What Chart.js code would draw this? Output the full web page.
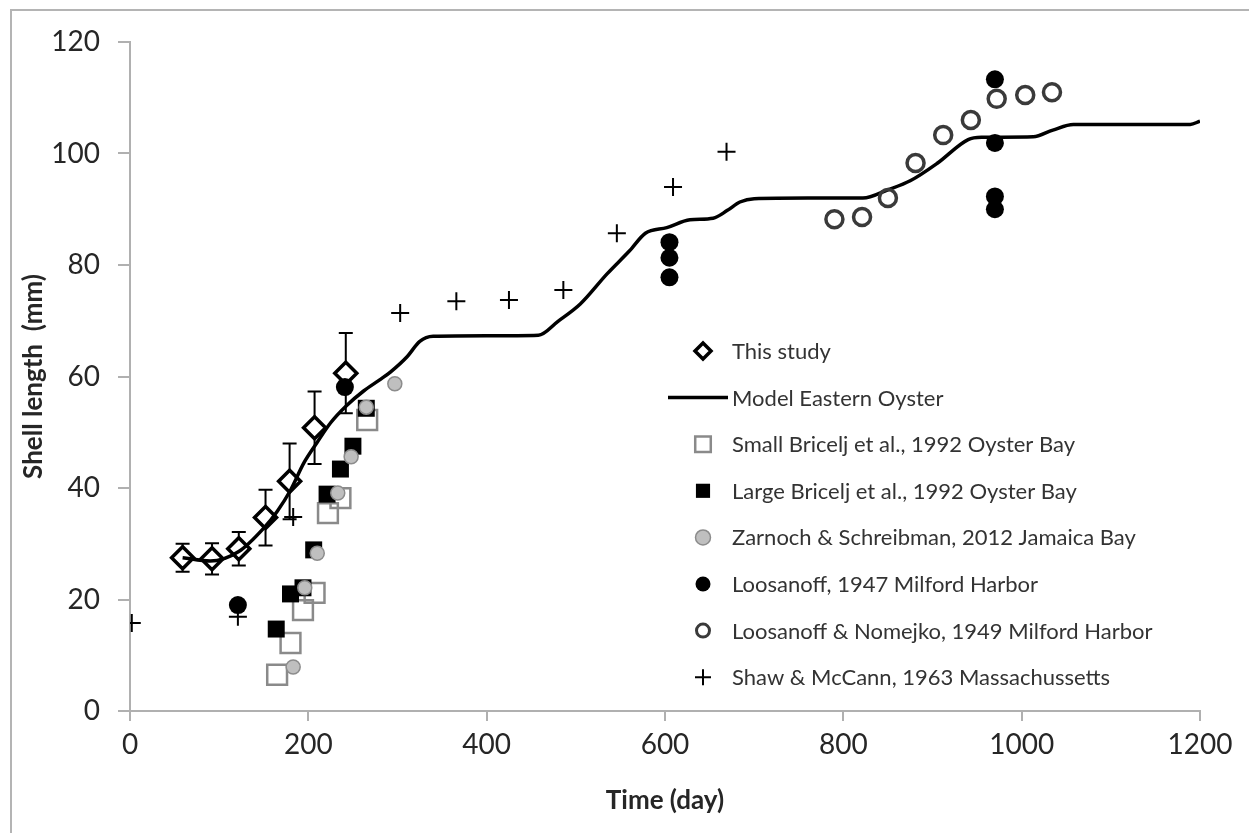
<!DOCTYPE html>
<html>
<head>
<meta charset="utf-8">
<script src="https://cdn.jsdelivr.net/npm/chart.js@4.4.1/dist/chart.umd.min.js"></script>
<style>
	html, body { margin: 0; padding: 0; background: #fff; }
	#wrap { position: relative; width: 1249px; height: 833px; overflow: hidden; }
	#frame { position: absolute; left: 10px; top: 9px; width: 1300px; height: 900px; border: 2px solid #b4b4b4; box-sizing: border-box; }
	#growth { position: absolute; left: 0; top: 0; }
</style>
</head>
<body>
<div id="wrap">
	<div id="frame"></div>
	<canvas id="growth" width="1249" height="833"></canvas>
</div>
<script>
( function () {
	'use strict';

	// This study: mean shell length with error bars
	var studyDay = [ 59, 92, 122, 152, 179, 207, 242 ];
	var studyLen = [ 27.5, 27.3, 29.1, 34.7, 41.2, 50.8, 60.6 ];
	var studyErr = [ 2.5, 2.8, 3.0, 5.0, 6.8, 6.5, 7.2 ];

	// Model Eastern Oyster
	var modelDay = [ 59, 90, 122, 150, 165, 180, 195, 210, 225, 243, 262, 280, 292, 311, 325, 340, 400, 458, 480, 505, 535, 560, 578, 602, 628, 654, 670, 684, 700, 760, 822, 850, 875, 905, 940, 955, 1013, 1035, 1058, 1150, 1189, 1200 ];
	var modelLen = [ 27.5, 26.9, 28.6, 32.8, 35.8, 39.6, 44.5, 48.2, 51.7, 54.8, 57.4, 59.4, 60.8, 63.6, 66.3, 67.2, 67.3, 67.4, 69.9, 73.0, 78.4, 82.5, 85.7, 86.7, 88.1, 88.4, 89.8, 91.3, 91.9, 92.0, 92.0, 93.5, 95.1, 98.2, 102.5, 102.9, 103.0, 104.2, 105.2, 105.2, 105.2, 105.8 ];

	// Small Bricelj et al., 1992
	var smallDay = [ 165, 180, 194, 207, 222, 236, 266 ];
	var smallLen = [ 6.5, 12.2, 18.1, 21.2, 35.5, 38.2, 52.2 ];

	// Large Bricelj et al., 1992
	var largeDay = [ 164, 180, 194, 206, 221, 236, 250, 265 ];
	var largeLen = [ 14.7, 21.0, 22.1, 28.9, 38.9, 43.4, 47.5, 54.3 ];

	// Zarnoch & Schreibman, 2012
	var zarnochDay = [ 183, 196, 210, 233, 248, 265, 297 ];
	var zarnochLen = [ 7.9, 22.1, 28.3, 39.1, 45.6, 54.5, 58.7 ];

	// Loosanoff, 1947
	var loos47Day = [ 121, 241, 605, 605, 605, 970, 970, 970, 970 ];
	var loos47Len = [ 19.0, 58.1, 84.1, 81.3, 77.8, 113.3, 101.9, 92.3, 90.0 ];

	// Loosanoff & Nomejko, 1949
	var loos49Day = [ 790, 821, 850, 881, 912, 943, 972, 1004, 1034 ];
	var loos49Len = [ 88.2, 88.6, 92.0, 98.3, 103.3, 106.0, 109.8, 110.5, 111.0 ];

	// Shaw & McCann, 1963
	var shawDay = [ 2, 121, 183, 303, 366, 425, 486, 546, 609, 669 ];
	var shawLen = [ 15.8, 16.9, 34.8, 71.4, 73.5, 73.7, 75.5, 85.7, 94.0, 100.3 ];

	var xTicks = [ 0, 200, 400, 600, 800, 1000, 1200 ];
	var yTicks = [ 0, 20, 40, 60, 80, 100, 120 ];

	function pts( xs, ys ) {
		return xs.map( function ( x, i ) { return { x: x, y: ys[ i ] }; } );
	}

	function plain( v ) {
		return String( v );
	}

	var axisGray = '#b0b0b0';
	var textColor = '#262626';

	// error bars under the diamonds
	var errorBars = {
		id: 'errorBars',
		beforeDatasetDraw: function ( chart, args ) {
			if ( args.index !== 0 ) {
				return;
			}
			var ctx = chart.ctx;
			var xs = chart.scales.x;
			var ys = chart.scales.y;
			ctx.save();
			ctx.strokeStyle = '#000';
			ctx.lineWidth = 2;
			studyDay.forEach( function ( d, i ) {
				var px = xs.getPixelForValue( d );
				var top = ys.getPixelForValue( studyLen[ i ] + studyErr[ i ] );
				var bot = ys.getPixelForValue( studyLen[ i ] - studyErr[ i ] );
				ctx.beginPath();
				ctx.moveTo( px, top );
				ctx.lineTo( px, bot );
				ctx.moveTo( px - 7, top );
				ctx.lineTo( px + 7, top );
				ctx.moveTo( px - 7, bot );
				ctx.lineTo( px + 7, bot );
				ctx.stroke();
			} );
			ctx.restore();
		}
	};

	// legend box inside the plot
	var legendPos = { lineX0: 668, lineX1: 728, markX: 703, textX: 732, top: 351, step: 46.6 };
	var legendMarks = [
		{ radius: 8, borderWidth: 3.5 },
		null,
		{ radius: 11, borderWidth: 2.5 },
		{ radius: 10, borderWidth: 0 },
		{ radius: 7.5, borderWidth: 1.5 },
		{ radius: 7.5, borderWidth: 0 },
		{ radius: 6.5, borderWidth: 3 },
		{ radius: 8, borderWidth: 2 }
	];
	var insideLegend = {
		id: 'insideLegend',
		afterDraw: function ( chart ) {
			var ctx = chart.ctx;
			ctx.save();
			ctx.font = '22px Lato';
			ctx.textBaseline = 'middle';
			ctx.textAlign = 'left';
			chart.data.datasets.forEach( function ( ds, i ) {
				var y = legendPos.top + i * legendPos.step;
				var mark = legendMarks[ i ];
				if ( mark === null ) {
					ctx.strokeStyle = ds.borderColor;
					ctx.lineWidth = 3.5;
					ctx.beginPath();
					ctx.moveTo( legendPos.lineX0, y );
					ctx.lineTo( legendPos.lineX1, y );
					ctx.stroke();
				} else {
					ctx.fillStyle = ds.backgroundColor;
					ctx.strokeStyle = ds.borderColor;
					ctx.lineWidth = mark.borderWidth;
					Chart.helpers.drawPoint( ctx, {
						pointStyle: ds.pointStyle,
						radius: mark.radius,
						borderWidth: mark.borderWidth,
						rotation: 0
					}, legendPos.markX, y );
				}
				ctx.fillStyle = '#333';
				ctx.fillText( ds.label, legendPos.textX, y + 1 );
			} );
			ctx.restore();
		}
	};

	new Chart( document.getElementById( 'growth' ).getContext( '2d' ), {
		type: 'scatter',
		data: {
			datasets: [ {
				label: 'This study',
				data: pts( studyDay, studyLen ),
				pointStyle: 'rectRot',
				pointRadius: 11,
				backgroundColor: '#fff',
				borderColor: '#000',
				pointBorderWidth: 3.5,
				order: 5
			}, {
				label: 'Model Eastern Oyster',
				data: pts( modelDay, modelLen ),
				showLine: true,
				borderColor: '#000',
				backgroundColor: '#000',
				borderWidth: 3.5,
				pointRadius: 0,
				cubicInterpolationMode: 'monotone',
				order: 3
			}, {
				label: 'Small Bricelj et al., 1992 Oyster Bay',
				data: pts( smallDay, smallLen ),
				pointStyle: 'rect',
				pointRadius: 14,
				backgroundColor: 'rgba(255,255,255,0)',
				borderColor: '#8a8a8a',
				pointBorderWidth: 2.5,
				order: 8
			}, {
				label: 'Large Bricelj et al., 1992 Oyster Bay',
				data: pts( largeDay, largeLen ),
				pointStyle: 'rect',
				pointRadius: 12,
				backgroundColor: '#000',
				borderColor: '#000',
				pointBorderWidth: 0,
				order: 7
			}, {
				label: 'Zarnoch & Schreibman, 2012 Jamaica Bay',
				data: pts( zarnochDay, zarnochLen ),
				pointStyle: 'circle',
				pointRadius: 7,
				backgroundColor: '#bfbfbf',
				borderColor: '#8c8c8c',
				pointBorderWidth: 1.5,
				order: 6
			}, {
				label: 'Loosanoff, 1947 Milford Harbor',
				data: pts( loos47Day, loos47Len ),
				pointStyle: 'circle',
				pointRadius: 9,
				backgroundColor: '#000',
				borderColor: '#000',
				pointBorderWidth: 0,
				order: 4
			}, {
				label: 'Loosanoff & Nomejko, 1949 Milford Harbor',
				data: pts( loos49Day, loos49Len ),
				pointStyle: 'circle',
				pointRadius: 8.5,
				backgroundColor: 'rgba(255,255,255,0)',
				borderColor: '#3a3a3a',
				pointBorderWidth: 3.5,
				order: 2
			}, {
				label: 'Shaw & McCann, 1963 Massachussetts',
				data: pts( shawDay, shawLen ),
				pointStyle: 'cross',
				pointRadius: 9,
				backgroundColor: '#000',
				borderColor: '#000',
				pointBorderWidth: 2,
				order: 1
			} ]
		},
		options: {
			responsive: false,
			animation: false,
			devicePixelRatio: 1,
			layout: { padding: { left: 0, top: 42, right: 49, bottom: 0 } },
			plugins: {
				legend: { display: false },
				tooltip: { enabled: false }
			},
			scales: {
				x: {
					type: 'linear',
					min: 0,
					max: 1200,
					afterFit: function ( scale ) { scale.height = 122; },
					afterBuildTicks: function ( scale ) {
						scale.ticks = xTicks.map( function ( v ) { return { value: v }; } );
					},
					grid: { drawOnChartArea: false, drawTicks: true, tickLength: 10, color: axisGray, lineWidth: 2 },
					border: { display: true, color: axisGray, width: 2 },
					ticks: { autoSkip: false, maxRotation: 0, padding: 7, color: textColor, font: { family: 'Lato', size: 28 }, callback: plain },
					title: { display: true, text: 'Time (day)', color: textColor, padding: { top: 0, bottom: 17 }, font: { family: 'Lato', size: 26, weight: 'bold' } }
				},
				y: {
					type: 'linear',
					min: 0,
					max: 120,
					afterFit: function ( scale ) { scale.width = 130; },
					afterBuildTicks: function ( scale ) {
						scale.ticks = yTicks.map( function ( v ) { return { value: v }; } );
					},
					grid: { drawOnChartArea: false, drawTicks: true, tickLength: 12, color: axisGray, lineWidth: 2 },
					border: { display: true, color: axisGray, width: 2 },
					ticks: { padding: 18, color: textColor, font: { family: 'Lato', size: 28 }, callback: plain },
					title: { display: true, text: 'Shell length  (mm)', color: textColor, padding: { top: 18, bottom: 0 }, font: { family: 'Lato', size: 26, weight: 'bold' } }
				}
			}
		},
		plugins: [ errorBars, insideLegend ]
	} );
} )();
</script>
</body>
</html>
